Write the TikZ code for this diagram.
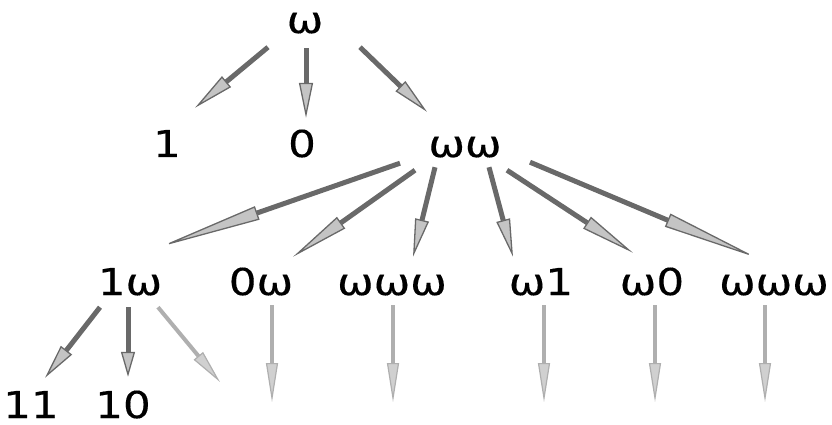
\documentclass[tikz,border=0pt]{standalone}
\usepackage{fontspec}
\usepackage{tikz}
\newfontfamily\wordfont{DejaVu Sans}[FakeStretch=1.18, FakeBold=0.3]
\definecolor{edgegray}{RGB}{105, 105, 105}
\definecolor{headfill}{RGB}{196, 196, 196}
\definecolor{fadegray}{RGB}{175, 175, 175}
\definecolor{fadefill}{RGB}{208, 208, 208}
\usetikzlibrary{arrows.meta, calc}
\tikzset{
    word/.style={inner sep=0pt, text height=27pt, text depth=0pt, anchor=base,
        font=\wordfont\fontsize{37}{40}\selectfont},
    branch/.style={draw=edgegray, line width=5pt, -{Triangle[length=#1pt,
        width=14pt, line width=1.3pt, fill=headfill]}},
    faded/.style={draw=fadegray, line width=4pt, -{Triangle[length=#1pt,
        width=12pt, line width=1.2pt, fill=fadefill]}},
}

\begin{document}
\begin{tikzpicture}[x=1pt, y=-1pt]
    \useasboundingbox (0, 0) rectangle (832, 425);
    % the words
    \node[word] (w) at (305, 33) {ω};
    \node[word] (n1) at (167, 157) {1};
    \node[word] (n0) at (302, 157) {0};
    \node[word] (ww) at (465, 157) {ωω};
    \node[word] (a1w) at (130, 295) {1ω};
    \node[word] (a0w) at (261, 295) {0ω};
    \node[word] (awww) at (392, 295) {ωωω};
    \node[word] (aw1) at (541, 295) {ω1};
    \node[word] (aw0) at (652, 295) {ω0};
    \node[word] (bwww) at (774, 295) {ωωω};
    \node[word] (c11) at (31, 418) {11};
    \node[word] (c10) at (123, 418) {10};
    % open ends
    \coordinate (e1) at (220, 382);
    \coordinate (e2) at (272, 402);
    \coordinate (e3) at (393, 402);
    \coordinate (e4) at (544, 402);
    \coordinate (e5) at (655, 402);
    \coordinate (e6) at (765, 402);
    % branches
    \draw[branch=41] ([shift={(-37, 14)}]w.south) -- ([shift={(28, -22)}]n1.north);
    \draw[branch=35] ([shift={(1, 15)}]w.south) -- ([shift={(4, -12)}]n0.north);
    \draw[branch=37] ([shift={(55, 14)}]w.south) -- ([shift={(-38, -18)}]ww.north);
    \draw[branch=103] ([shift={(-65, 6)}]ww.south) -- ([shift={(30, -21)}]a1w.north);
    \draw[branch=59] ([shift={(-50, 13)}]ww.south) -- ([shift={(32, -11)}]a0w.north);
    \draw[branch=38] ([shift={(-30, 10)}]ww.south) -- ([shift={(21, -11)}]awww.north);
    \draw[branch=38] ([shift={(24, 10)}]ww.south) -- ([shift={(-28, -11)}]aw1.north);
    \draw[branch=55] ([shift={(42, 13)}]ww.south) -- ([shift={(-19, -15)}]aw0.north);
    \draw[branch=97] ([shift={(65, 5)}]ww.south) -- ([shift={(-17, -10)}]bwww.north);
    \draw[branch=35] ([shift={(-30, 12)}]a1w.south) -- ([shift={(14, -13)}]c11.north);
    \draw[branch=25] ([shift={(-2, 12)}]a1w.south) -- ([shift={(5, -14)}]c10.north);
    % unexplored branches
    \draw[faded=34] ([shift={(28, 12)}]a1w.south) -- (e1);
    \draw[faded=39] ([shift={(11, 10)}]a0w.south) -- (e2);
    \draw[faded=39] ([shift={(1, 10)}]awww.south) -- (e3);
    \draw[faded=39] ([shift={(3, 10)}]aw1.south) -- (e4);
    \draw[faded=39] ([shift={(3, 10)}]aw0.south) -- (e5);
    \draw[faded=39] ([shift={(-9, 10)}]bwww.south) -- (e6);
\end{tikzpicture}
\end{document}
